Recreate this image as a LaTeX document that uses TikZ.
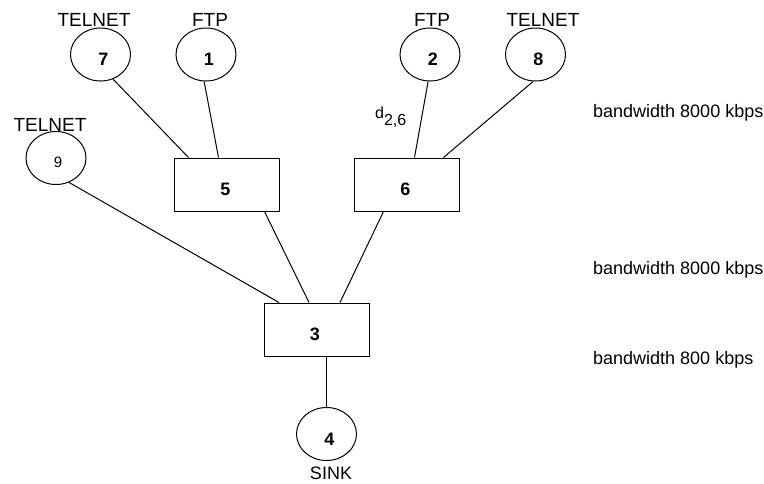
\documentclass[tikz,border=0pt]{standalone}
\usepackage{fontspec}
\setmainfont{Liberation Sans}
\usetikzlibrary{shapes.geometric,calc}
\begin{document}
\begin{tikzpicture}[x=1pt,y=-1pt,
  host/.style={draw,ellipse,line width=1pt,minimum width=60pt,minimum height=53pt,inner sep=0pt},
  router/.style={draw,rectangle,line width=1pt,minimum width=105pt,minimum height=53pt,inner sep=0pt},
  link/.style={line width=1pt},
  lbl/.style={font=\fontsize{19}{19}\selectfont,inner sep=0pt},
  bw/.style={font=\fontsize{18}{18}\selectfont,anchor=west,inner sep=0pt},
  num/.style={font=\fontsize{18}{18}\selectfont\bfseries,inner sep=0pt},
  numthin/.style={font=\fontsize{15}{15}\selectfont,inner sep=0pt}]
\useasboundingbox (0,0) rectangle (764,483);

% hosts
\node[host,label={[num,xshift=3pt,yshift=-5pt]center:7}] (n7) at (100.5,54.5) {};
\node[host,label={[num,xshift=3pt,yshift=-5pt]center:1}] (n1) at (206,54.5) {};
\node[host,label={[num,xshift=3pt,yshift=-5pt]center:2}] (n2) at (430,54.5) {};
\node[host,label={[num,xshift=3pt,yshift=-5pt]center:8}] (n8) at (535.5,54.5) {};
\node[host,label={[numthin,xshift=2pt,yshift=-4pt]center:9}] (n9) at (56,158) {};
\node[host,label={[num,xshift=3pt,yshift=-5pt]center:4}] (n4) at (326.5,434) {};

% routers
\node[router,label={[num,xshift=-1pt,yshift=-5pt]center:5}] (n5) at (226.5,184.5) {};
\node[router,label={[num,xshift=-1pt,yshift=-5pt]center:6}] (n6) at (406.5,184.5) {};
\node[router,label={[num,xshift=-2pt,yshift=-5pt]center:3}] (n3) at (317,329.5) {};

% host labels
\node[lbl] (t7) at (94,20) {TELNET};
\node[lbl] (t1) at (210,20) {FTP};
\node[lbl] (t2) at (432,20) {FTP};
\node[lbl] (t8) at (543,20) {TELNET};
\node[lbl] (t9) at (50,125) {TELNET};
\node[lbl,font=\fontsize{18}{18}\selectfont] (sink) at (331,473) {SINK};

% link label
\node[font=\fontsize{16}{16}\selectfont,inner sep=0pt,anchor=base west] (d26) at (375,118) {d\raisebox{-7pt}{2,6}};

% bandwidth notes
\node[bw] (bw1) at (593,113) {bandwidth 8000 kbps};
\node[bw] (bw2) at (593,270) {bandwidth 8000 kbps};
\node[bw] (bw3) at (593,360) {bandwidth 800 kbps};

% connectors
\draw[link] (n7.-63) -- ([xshift=15pt]n5.north west);
\draw[link] (n1.-94) -- ([xshift=45pt]n5.north west);
\draw[link] (n2.-94) -- ([xshift=61pt]n6.north west);
\draw[link] (n8.-95) -- ([xshift=90pt]n6.north west);
\draw[link] (n9.-62) -- ([xshift=15pt]n3.north west);
\draw[link] ([xshift=91pt]n5.south west) -- ([xshift=45pt]n3.north west);
\draw[link] ([xshift=30pt]n6.south west) -- ([xshift=76pt]n3.north west);
\draw[link] (n4.north |- n3.south) -- (n4.north);
\end{tikzpicture}
\end{document}
